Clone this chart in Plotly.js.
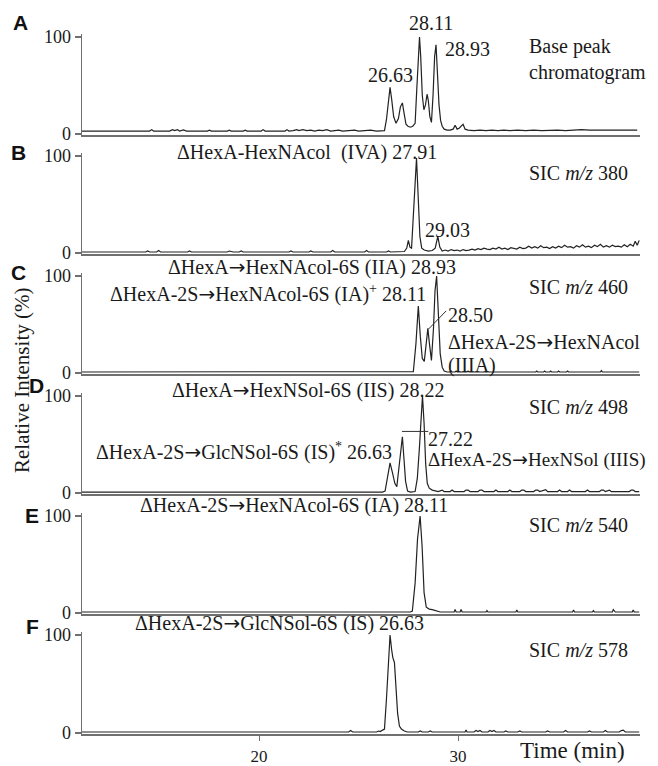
<!DOCTYPE html>
<html><head><meta charset="utf-8">
<script src="https://cdn.plot.ly/plotly-3.0.1.min.js"></script>
<style>html,body{margin:0;padding:0;background:#fff}#chart{width:658px;height:766px}</style>
</head><body><div id="chart"></div>
<script>
// ---------- data (time in min, relative intensity in %) ----------
const panelLetters = ['A','B','C','D','E','F'];
const channelLabels = ['Base peak<br>chromatogram','SIC <i>m/z</i> 380','SIC <i>m/z</i> 460','SIC <i>m/z</i> 498','SIC <i>m/z</i> 540','SIC <i>m/z</i> 578'];
const xTickValues = [20, 30];
const yTickValues = [0, 100];
const xAxisTitle = 'Time (min)';
const yAxisTitle = 'Relative Intensity (%)';

const peakLabelsA = ['26.63','28.11','28.93'];
const compoundLabels = ['ΔHexA-HexNAcol\u00a0 (IVA) 27.91','ΔHexA→HexNAcol-6S (IIA) 28.93','ΔHexA-2S→HexNAcol-6S (IA)<sup>+</sup> 28.11','ΔHexA→HexNSol-6S (IIS) 28.22','ΔHexA-2S→GlcNSol-6S (IS)<sup>*</sup> 26.63','ΔHexA-2S→HexNAcol-6S (IA) 28.11','ΔHexA-2S→GlcNSol-6S (IS) 26.63'];
const minorLabelsB = ['29.03'];
const minorLabelsC = ['28.50','ΔHexA-2S→HexNAcol','(IIIA)'];
const minorLabelsD = ['27.22','ΔHexA-2S→HexNSol (IIIS)'];

const traceA = [[11.1,3],[12,3],[13,3],[14,3],[14.5,3],[14.6,4.5],[14.7,3],[15.5,3],[15.65,4.5],[15.75,3.5],[15.9,4.5],[16,3],[16.2,4.2],[16.35,3],[17.4,3],[17.5,4],[17.6,3],[18.4,3],[18.5,4],[18.6,3],[19.2,3],[19.3,4],[19.4,3],[20.1,3],[20.2,4.5],[20.3,3],[21.3,3],[21.4,4.5],[21.5,3],[21.7,3.5],[21.9,4.5],[22,3.5],[22.2,4.5],[22.4,3.5],[22.6,4],[22.8,3],[23,4],[23.2,3.5],[23.4,4.5],[23.6,3],[23.8,3.5],[24,4],[24.2,3],[24.5,3.5],[24.8,4],[25,3],[25.3,3.5],[25.6,4],[25.9,3],[26.1,3.5],[26.3,3.5],
 [26.4,15],[26.5,38],[26.58,48],[26.66,36],[26.76,18],[26.88,11],[27,16],[27.1,28],[27.2,32],[27.28,22],[27.38,10],[27.48,8],[27.6,7],[27.72,8],[27.84,11],[27.92,45],[28,85],[28.06,100],[28.12,80],[28.2,40],[28.28,25],[28.36,30],[28.44,41],[28.5,35],[28.58,18],[28.66,12],[28.74,40],[28.82,80],[28.89,92],[28.96,60],[29.04,30],[29.12,14],[29.2,8],[29.3,5],[29.45,4],[29.6,4],[29.75,5],[29.85,9],[29.95,5],[30.05,6],[30.15,8],[30.25,10],[30.35,5],[30.5,4],
 [30.8,3.5],[31.1,4],[31.4,3.5],[31.7,4],[32,3.5],[32.3,4],[32.6,3.5],[33,4],[33.4,3.5],[33.8,4],[34.2,3.5],[34.6,4],[35,4],[35.4,3.5],[35.8,4],[36.2,4.5],[36.6,4],[37,4],[37.4,4.5],[37.8,4],[38.2,4],[38.6,4.5],[39,4]];

const traceB = [[11.1,1],[14.3,1],[14.4,2],[14.5,1],[14.85,1],[14.95,2.5],[15.05,1],[16.4,1],[16.5,2],[16.6,1],[18.4,1],[18.5,2],[18.6,1.5],[18.7,1],[19,1],[19.1,2],[19.2,1],[21.5,1],[21.6,2],[21.7,1],[22.5,1],[22.6,2],[22.7,1],[23.6,1],[23.7,2.5],[23.8,1],[25.3,1],[25.4,2.5],[25.5,1],[26.4,1],[26.5,2],[26.6,1],
 [27.3,1.5],[27.42,5],[27.5,13],[27.58,6],[27.66,5],[27.75,36],[27.84,70],[27.91,98],[28,55],[28.08,17],[28.17,5],[28.3,3],[28.5,2],[28.7,2.5],[28.85,5],[28.98,17],[29.08,6],[29.2,2],
 [29.35,3],[29.5,2],[29.65,3.5],[29.8,2.5],[29.95,3],[30.1,2],[30.25,3.5],[30.4,2.5],[30.55,3],[30.7,4],[30.85,3],[31,4.5],[31.15,3.5],[31.3,5],[31.45,4],[31.6,3.5],[31.75,5],[31.9,4],[32.05,6],[32.2,4],[32.35,5],[32.5,3.5],[32.65,5.5],[32.8,4.5],[32.95,4],[33.1,6],[33.25,4.5],[33.4,5],[33.55,7],[33.7,5],[33.85,6.5],[34,5],[34.15,7.5],[34.3,5.5],[34.45,6],[34.6,4.5],[34.75,6.5],[34.9,5],[35.05,7],[35.2,5.5],[35.35,8],[35.5,6],[35.65,6.5],[35.8,5],[35.95,7.5],[36.1,6],[36.25,8.5],[36.4,6],[36.55,7],[36.7,5.5],[36.85,8],[37,6.5],[37.15,9],[37.3,6],[37.45,7.5],[37.6,6],[37.75,8],[37.9,6.5],[38.05,7],[38.2,6],[38.35,8.5],[38.5,6.5],[38.65,9],[38.8,7],[38.9,12],[39,8],[39.1,13]];

const traceC = [[11.1,1],[27.6,1],[27.75,1.5],[27.88,30],[28,69],[28.1,38],[28.2,15],[28.3,12],[28.4,32],[28.48,46],[28.56,30],[28.66,13],[28.76,45],[28.84,85],[28.92,100],[29,60],[29.1,20],[29.2,6],[29.3,2],[29.45,1],[29.6,1],[29.65,2],[29.7,1],[29.85,1],[29.9,2],[29.95,1],[30.45,1],[30.5,2],[30.55,1],[33.9,1],[33.95,2],[34,1],[34.3,1],[34.35,2],[34.4,1],[34.6,1],[34.65,2],[34.7,1],[35,1],[35.05,2],[35.1,1],[35.45,1],[35.5,2],[35.55,1],[37.15,1],[37.2,2.5],[37.25,1],[39.1,1]];

const traceD = [[11.1,1],[26.2,1],[26.33,2],[26.45,17],[26.58,31],[26.7,21],[26.82,10],[26.92,6.5],[27.02,25],[27.12,50],[27.2,58],[27.28,35],[27.36,12],[27.46,2],[27.6,1],[27.84,1.5],[27.95,15],[28.05,45],[28.13,80],[28.21,100],[28.29,72],[28.37,30],[28.45,10],[28.55,5],[28.7,3],[28.85,2],
 [29,1.5],[29.2,3],[29.3,1.5],[29.6,1.5],[29.7,3],[29.8,1.5],[30.3,1.5],[30.4,3],[30.5,3],[30.6,1.5],[31,1.5],[31.1,3],[31.2,3],[31.3,1.5],[31.8,1.5],[31.9,3],[32,1.5],[32.5,1.5],[32.6,3],[32.7,1.5],[33.1,1.5],[33.2,3],[33.3,3],[33.4,1.5],[33.8,1.5],[33.9,3],[34,3],[34.1,1.5],[34.3,3],[34.4,3.5],[34.5,1.5],[35,1.5],[35.1,3],[35.2,1.5],[35.5,1.5],[35.6,3],[35.7,1.5],[36.4,1.5],[36.5,3],[36.6,1.5],[37.1,1.5],[37.2,3],[37.3,3],[37.4,1.5],[37.6,3],[37.7,1.5],[38.6,1.5],[38.7,3],[38.8,3],[38.9,1.5],[39.1,1.5]];

const traceE = [[11.1,1],[27.6,1],[27.7,2],[27.84,31],[27.96,76],[28.09,100],[28.19,69],[28.29,21],[28.4,6],[28.55,4],[28.7,3.5],[28.85,2.5],[29,1.5],[29.1,1],[29.8,1],[29.85,3.5],[29.9,1],[30.1,1],[30.15,3.5],[30.2,1],[31.4,1],[31.45,2.5],[31.5,1],[32.9,1],[32.95,3],[33,1],[35.75,1],[35.8,3],[35.85,1],[36.75,1],[36.8,2.5],[36.85,1],[37.75,1],[37.8,3.5],[37.9,1],[38.75,1],[38.8,3],[38.85,1],[39.1,1]];

const traceF = [[11.1,1],[24.5,1],[24.6,2.5],[24.7,1],[25.9,1],[26,2],[26.08,1.5],[26.3,4],[26.4,35],[26.5,80],[26.58,100],[26.66,85],[26.72,77],[26.8,72],[26.88,48],[26.96,20],[27.05,7],[27.15,4],[27.3,2],[27.45,1],[28,1],[28.1,2],[28.2,1],[28.5,1],[28.6,2],[28.7,1],[30.35,1],[30.4,3],[30.45,1],[30.8,1],[30.9,2.5],[31,1.5],[31.1,2.5],[31.2,1],[31.5,1],[31.6,2.5],[31.7,1.5],[31.8,2.5],[31.9,1],[32.3,1],[32.4,2],[32.5,1],[33,1],[33.1,2],[33.2,1],[34.4,1],[34.5,2],[34.6,1],[35.3,1],[35.4,2.5],[35.5,1],[36.5,1],[36.6,2],[36.7,1],[37.3,1],[37.4,2.5],[37.5,1],[38.1,1],[38.2,2.5],[38.3,3],[38.4,1],[39.1,1]];

// ---------- layout geometry ----------
const W = 658, H = 766, L = 82, R = 640;
const px = x => (x - L) / (R - L);
const py = y => 1 - y / H;
const serif = 'Liberation Serif, Times New Roman, serif';
const sans = 'Liberation Sans, Arial, sans-serif';
const txtColor = '#1a1a1a';
const axisColor = '#707070';
const domains = [[0.8238,0.9555],[0.6685,0.8001],[0.5118,0.6435],[0.3551,0.4868],[0.1985,0.3302],[0.0418,0.1748]];
const arrowSpan = '<span style="font-family:DejaVu Sans">→</span>';
const fixArrow = t => t.replace(/→/g, arrowSpan);

const allTraces = [traceA, traceB, traceC, traceD, traceE, traceF];
const data = allTraces.map((p, i) => ({
  type: 'scatter', mode: 'lines',
  x: p.map(d => d[0]), y: p.map(d => d[1]),
  xaxis: i ? 'x' + (i + 1) : 'x', yaxis: i ? 'y' + (i + 1) : 'y',
  line: {color: '#222', width: 1.2}, hoverinfo: 'skip'
}));

const layout = {
  width: W, height: H, margin: {l: L, r: W - R, t: 0, b: 0},
  paper_bgcolor: '#fff', plot_bgcolor: '#fff', showlegend: false,
  annotations: [], shapes: []
};
for (let i = 0; i < 6; i++) {
  const s = i ? String(i + 1) : '';
  const last = i === 5;
  layout['xaxis' + s] = {
    anchor: 'y' + s, domain: [0, 1], range: [11.1, 39.14],
    showline: true, linecolor: axisColor, linewidth: 2.2,
    showgrid: false, zeroline: false,
    ticks: last ? 'outside' : '', ticklen: 5, tickwidth: 1.2, tickcolor: axisColor,
    tickvals: xTickValues, showticklabels: last,
    tickfont: {family: serif, size: 17, color: txtColor}, fixedrange: true
  };
  layout['yaxis' + s] = {
    anchor: 'x' + s, domain: domains[i], range: [-1, 103],
    showline: true, linecolor: axisColor, linewidth: 1.5,
    showgrid: false, zeroline: false,
    ticks: 'outside', ticklen: 6, tickwidth: 1.2, tickcolor: axisColor,
    tickvals: yTickValues, ticktext: yTickValues.map(String),
    tickfont: {family: serif, size: 18, color: txtColor}, fixedrange: true
  };
}

function note(text, x, y, opts) {
  layout.annotations.push(Object.assign({
    text: fixArrow(text), xref: 'paper', yref: 'paper', x: px(x), y: py(y),
    xanchor: 'center', yanchor: 'middle', showarrow: false, borderpad: 0,
    font: {family: serif, size: 20, color: txtColor}
  }, opts || {}));
}

// panel letters
const letterPos = [[20,22],[18,152],[18,272],[36,385],[32,515],[32,626]];
panelLetters.forEach((t, i) => note('<b>' + t + '</b>', letterPos[i][0], letterPos[i][1], {font: {family: sans, size: 21, color: '#111'}}));

// channel labels
const chanY = [60,173,287,407,525,650];
channelLabels.forEach((t, i) => note(t, 528, chanY[i], {xanchor: 'left', align: 'left'}));

// base-peak retention times
note(peakLabelsA[0], 390, 75); note(peakLabelsA[1], 431, 23); note(peakLabelsA[2], 467, 49);

// compound labels, right edge placed so the retention time sits over its peak
const labelRight = [[438,153],[457,267],[427,293],[445,390],[393,452],[449,505],[425,623]];
compoundLabels.forEach((t, i) => note(t, labelRight[i][0], labelRight[i][1], {xanchor: 'right'}));

note(minorLabelsB[0], 447, 230);
note(minorLabelsC[0], 447, 315, {xanchor: 'left'}); note(minorLabelsC[1], 447, 342, {xanchor: 'left'}); note(minorLabelsC[2], 447, 365, {xanchor: 'left'});
note(minorLabelsD[0], 427, 439, {xanchor: 'left'}); note(minorLabelsD[1], 427, 459, {xanchor: 'left', font: {family: serif, size: 19, color: txtColor}});

// axis titles
note(xAxisTitle, 572, 750, {font: {family: serif, size: 23, color: txtColor}});
note(yAxisTitle, 22, 381, {textangle: -90, font: {family: serif, size: 21, color: txtColor}});

// leader lines
layout.shapes.push({type: 'line', xref: 'x3', yref: 'y3', x0: 28.5, y0: 45, x1: 29.4, y1: 64, line: {color: '#333', width: 1}});
layout.shapes.push({type: 'line', xref: 'x4', yref: 'y4', x0: 27.18, y0: 63.5, x1: 28.5, y1: 63.5, line: {color: '#333', width: 1}});

Plotly.newPlot('chart', data, layout, {staticPlot: true, displayModeBar: false});
</script>
</body></html>
